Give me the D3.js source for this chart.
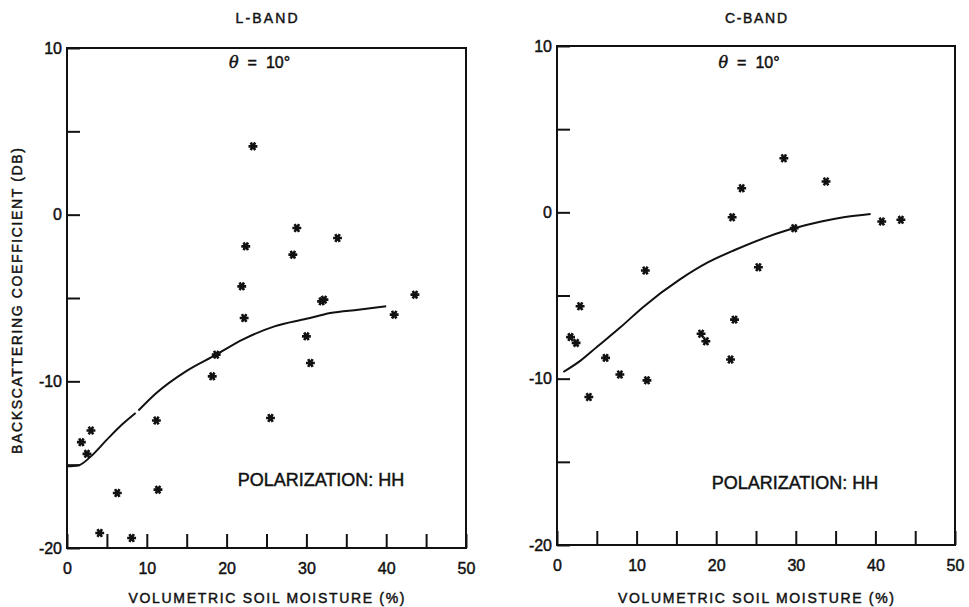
<!DOCTYPE html>
<html>
<head>
<meta charset="utf-8">
<script src="https://cdn.jsdelivr.net/npm/d3@7"></script>
<style>
  body { margin: 0; background: #fff; }
  text { font-family: "Liberation Sans", Arial, sans-serif; fill: #111; stroke: #111; stroke-width: 0.45px; }
</style>
</head>
<body>
<div id="chart"></div>
<script>
// L-band measurements (soil moisture %, sigma0 dB)
var lbandMoisture = [23.3, 28.8, 22.4, 33.9, 28.3, 21.9, 31.9, 32.2, 43.6, 22.2, 41.0, 30.0,
  30.5, 18.7, 18.2, 25.5, 11.2, 3.0, 1.8, 2.5, 11.4, 6.3, 4.1, 8.1];
var lbandSigma = [4.1, -0.8, -1.9, -1.4, -2.4, -4.3, -5.2, -5.1, -4.8, -6.2, -6.0, -7.3,
  -8.9, -8.4, -9.7, -12.2, -12.35, -12.95, -13.65, -14.35, -16.5, -16.7, -19.1, -19.4];

// L-band regression curve (null = gap in pen line)
var lbandCurveX = [0, 1.4, 3, 5, 7, 8.6, null, 8.95, 11.2, 14.9, 18.7, 22, 26, 30, 33, 36.5, 40];
var lbandCurveY = [-15.1, -15.05, -14.5, -13.5, -12.55, -11.9, null, -11.75, -10.7, -9.4, -8.4, -7.5, -6.7, -6.25, -5.9, -5.7, -5.5];

// C-band measurements
var cbandMoisture = [28.5, 33.8, 23.2, 22.0, 29.8, 40.8, 43.2, 11.1, 25.3, 2.9,
  22.3, 1.7, 2.4, 18.1, 18.7, 21.8, 6.1, 7.9, 11.3, 4.0];
var cbandSigma = [3.25, 1.85, 1.45, -0.3, -0.95, -0.55, -0.45, -3.5, -3.3, -5.65,
  -6.45, -7.5, -7.85, -7.3, -7.75, -8.85, -8.75, -9.75, -10.1, -11.1];

var cbandCurveX = [0.8, 3, 5, 8, 10.8, 15.4, 19, 22.4, 26, 29.1, 33.2, 36, 39.4];
var cbandCurveY = [-9.6, -8.9, -8.1, -6.9, -5.7, -4.05, -3.0, -2.25, -1.55, -1.05, -0.55, -0.3, -0.1];

var xTicks = [0, 5, 10, 15, 20, 25, 30, 35, 40, 45, 50];
var yTicks = [-20, -15, -10, -5, 0, 5, 10];

var svgWidth = 969;
var svgHeight = 607;

var svg = d3.select("#chart")
  .append("svg")
  .attr("width", svgWidth)
  .attr("height", svgHeight);

function drawPanel(opts) {
  var x = d3.scaleLinear().domain([0, 50]).range([opts.left, opts.right]);
  var y = d3.scaleLinear().domain([-20, 10]).range([opts.bottom, opts.top]);

  var g = svg.append("g");

  // frame
  g.append("rect")
    .attr("x", opts.left)
    .attr("y", opts.top)
    .attr("width", opts.right - opts.left)
    .attr("height", opts.bottom - opts.top)
    .attr("fill", "none")
    .attr("stroke", "#111")
    .attr("stroke-width", 2);

  // inward ticks
  var leftAxis = d3.axisLeft(y)
    .tickValues(yTicks)
    .tickSizeInner(-13)
    .tickSizeOuter(0)
    .tickPadding(5)
    .tickFormat(d => d % 10 === 0 ? d : "");
  var bottomAxis = d3.axisBottom(x)
    .tickValues(xTicks)
    .tickSizeInner(-14)
    .tickSizeOuter(0)
    .tickPadding(15)
    .tickFormat(d => d % 10 === 0 ? d : "");

  var ya = g.append("g")
    .attr("transform", `translate(${opts.left},0)`)
    .call(leftAxis);
  var xa = g.append("g")
    .attr("transform", `translate(0,${opts.bottom})`)
    .call(bottomAxis);
  [ya, xa].forEach(function(a) {
    a.select(".domain").remove();
    a.selectAll("line").attr("stroke", "#111").attr("stroke-width", 2);
    a.selectAll("text")
      .style("font-family", "'Liberation Sans', Arial, sans-serif")
      .attr("font-size", 16)
      .attr("fill", "#111");
  });

  // curve
  var pts = opts.curveX.map((v, i) => v === null ? null : [v, opts.curveY[i]]);
  var line = d3.line()
    .defined(d => d !== null)
    .x(d => x(d[0]))
    .y(d => y(d[1]))
    .curve(d3.curveMonotoneX);
  g.append("path")
    .datum(pts)
    .attr("d", line)
    .attr("fill", "none")
    .attr("stroke", "#111")
    .attr("stroke-width", 2);

  // points
  var star = d3.symbol().type(d3.symbolAsterisk).size(55);
  g.selectAll("path.pt")
    .data(opts.moisture)
    .enter()
    .append("path")
    .attr("class", "pt")
    .attr("d", star)
    .attr("transform", (d, i) => `translate(${x(d)},${y(opts.sigma[i])}) rotate(90)`)
    .attr("fill", "none")
    .attr("stroke", "#111")
    .attr("stroke-width", 2.6);

  var cx = (opts.left + opts.right) / 2;

  // band title
  g.append("text")
    .attr("x", cx)
    .attr("y", 23)
    .attr("text-anchor", "middle")
    .attr("font-size", 14)
    .attr("textLength", 62)
    .attr("lengthAdjust", "spacing")
    .text(opts.title);

  // incidence angle
  var th = g.append("text")
    .attr("x", cx - 7)
    .attr("y", 68)
    .attr("text-anchor", "middle")
    .attr("font-size", 16);
  th.append("tspan").attr("font-style", "italic").style("font-family", "'DejaVu Serif', serif").text("θ");
  th.append("tspan").attr("dx", 9).text("=");
  th.append("tspan").attr("dx", 9).text("10°");

  // polarization
  g.append("text")
    .attr("x", opts.polX)
    .attr("y", opts.polY)
    .attr("text-anchor", "middle")
    .attr("font-size", 18)
    .text("POLARIZATION: HH");

  // x axis label
  g.append("text")
    .attr("x", cx)
    .attr("y", 603)
    .attr("text-anchor", "middle")
    .attr("font-size", 14)
    .attr("textLength", 276)
    .attr("lengthAdjust", "spacing")
    .text("VOLUMETRIC SOIL MOISTURE (%)");
}

drawPanel({
  title: "L-BAND", left: 67, right: 466, top: 48, bottom: 548,
  moisture: lbandMoisture, sigma: lbandSigma,
  curveX: lbandCurveX, curveY: lbandCurveY,
  polX: 321, polY: 486
});

drawPanel({
  title: "C-BAND", left: 557, right: 955, top: 46, bottom: 545,
  moisture: cbandMoisture, sigma: cbandSigma,
  curveX: cbandCurveX, curveY: cbandCurveY,
  polX: 795, polY: 489
});

// y axis label (left panel only)
svg.append("text")
  .attr("transform", "translate(22,301) rotate(-90)")
  .attr("text-anchor", "middle")
  .attr("font-size", 14)
  .attr("textLength", 306)
  .attr("lengthAdjust", "spacing")
  .text("BACKSCATTERING COEFFICIENT (DB)");
</script>
</body>
</html>
